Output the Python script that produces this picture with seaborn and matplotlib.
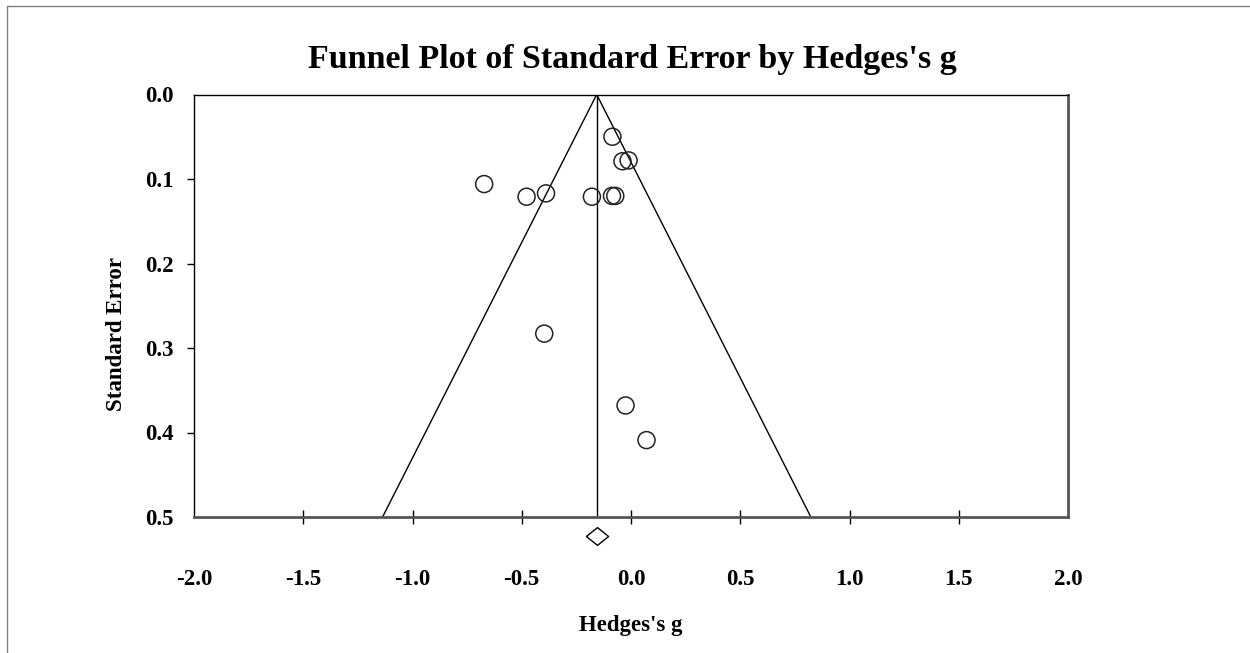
import numpy as np
import pandas as pd
import seaborn as sns
import matplotlib
matplotlib.use("Agg")
import matplotlib.pyplot as plt
from matplotlib.lines import Line2D

# Study effect sizes (Hedges's g) and their standard errors
hedges_g = [-0.085, -0.039, -0.011, -0.672, -0.478, -0.389,
            -0.179, -0.087, -0.072, -0.397, -0.025, 0.071]
std_error = [0.050, 0.079, 0.078, 0.106, 0.121, 0.117,
             0.121, 0.120, 0.120, 0.283, 0.368, 0.409]

# Pooled estimate and the standard error at which its diamond is drawn
pooled_g = -0.157
pooled_row = 0.5225
z_crit = 1.96
se_max = 0.5

x_ticks = [-2.0, -1.5, -1.0, -0.5, 0.0, 0.5, 1.0, 1.5, 2.0]
y_ticks = [0.0, 0.1, 0.2, 0.3, 0.4, 0.5]

sns.set_theme(style="white")
plt.rcParams["font.family"] = ["Liberation Serif", "DejaVu Serif"]
plt.rcParams["font.weight"] = "bold"

fig = plt.figure(figsize=(12.5, 6.53), dpi=100)
fig.patch.set_facecolor("white")
W, H = 1250, 653
ax = fig.add_axes([194 / W, 1 - 517 / H, 874 / W, (517 - 94.5) / H])
ax.set_facecolor("white")

df = pd.DataFrame({"g": hedges_g, "se": std_error})

# Funnel: pooled estimate +/- 1.96 * SE, and the vertical line at the pooled estimate
se_line = np.array([0.0, se_max])
ax.plot(pooled_g - z_crit * se_line, se_line, color="black", lw=1.0, zorder=2)
ax.plot(pooled_g + z_crit * se_line, se_line, color="black", lw=1.0, zorder=2)
ax.plot([pooled_g, pooled_g], se_line, color="black", lw=1.0, zorder=2)

sns.scatterplot(data=df, x="g", y="se", ax=ax, marker="o", s=150,
                color="black", linewidth=1.1, zorder=3, legend=False)
for coll in ax.collections:
    coll.set_facecolor("none")
    coll.set_edgecolor("#222222")

# Pooled-estimate diamond under the axis
diamond = [(-1, 0), (0, 0.8), (1, 0), (0, -0.8), (-1, 0)]
ax.plot([pooled_g], [pooled_row], marker=diamond, markersize=16,
        markerfacecolor="white", markeredgecolor="black", markeredgewidth=1.0,
        linestyle="none", clip_on=False, zorder=4)

ax.set_xlim(-2.0, 2.0)
ax.set_ylim(0.5, 0.0)
ax.set_xticks(x_ticks)
ax.set_xticklabels([f"{v:.1f}" for v in x_ticks])
ax.set_yticks(y_ticks)
ax.set_yticklabels([f"{v:.1f}" for v in y_ticks])

ax.tick_params(axis="x", direction="inout", length=10, width=1, color="black",
               pad=32.5, labelsize=16.5, bottom=True)
ax.tick_params(axis="y", direction="out", length=5, width=1, color="black",
               pad=9.5, labelsize=16.5, left=True)
for lab in ax.get_xticklabels() + ax.get_yticklabels():
    lab.set_fontweight("bold")
    lab.set_color("black")
for t in (ax.yaxis.get_major_ticks()[0], ax.yaxis.get_major_ticks()[-1]):
    t.tick1line.set_visible(False)
for t in (ax.xaxis.get_major_ticks()[0], ax.xaxis.get_major_ticks()[-1]):
    t.tick1line.set_visible(False)

for side in ("top", "left"):
    ax.spines[side].set_color("black")
    ax.spines[side].set_linewidth(1.0)
for side in ("right", "bottom"):
    ax.spines[side].set_color("#555555")
    ax.spines[side].set_linewidth(2.0)

ax.set_xlabel("Hedges's g", fontsize=16.5, fontweight="bold", color="black", va="baseline")
ax.xaxis.set_label_coords((631 - 194) / 874, (517 - 631) / 422.5)
ax.set_ylabel("Standard Error", fontsize=16.5, fontweight="bold", color="black", va="center")
ax.yaxis.set_label_coords((117 - 194) / 874, (517 - 334) / 422.5)

fig.text(632 / W, 1 - 68 / H, "Funnel Plot of Standard Error by Hedges's g",
         ha="center", va="baseline", fontsize=24.5, fontweight="bold", color="black")

# Frame edges along the top and left of the figure
fig.add_artist(Line2D([7 / W, 1.0], [1 - 6 / H, 1 - 6 / H],
                      transform=fig.transFigure, color="#808080", lw=1.0))
fig.add_artist(Line2D([7 / W, 7 / W], [0.0, 1 - 6 / H],
                      transform=fig.transFigure, color="#808080", lw=1.0))

fig.savefig("out.png", dpi=100, facecolor="white")
